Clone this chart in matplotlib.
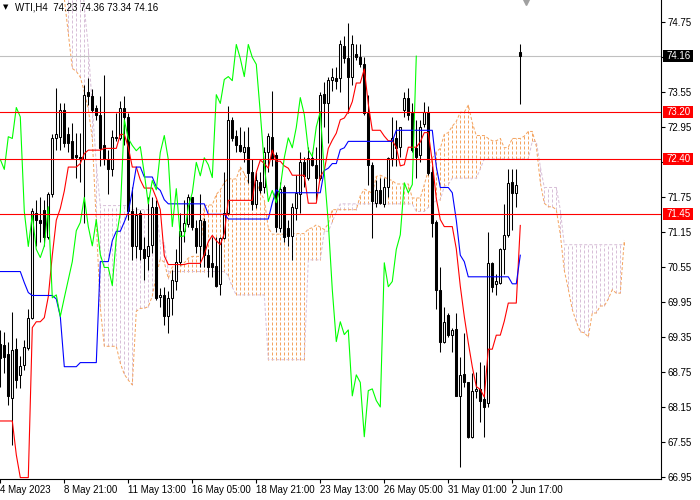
import numpy as np
import matplotlib
matplotlib.use('Agg')
import matplotlib.pyplot as plt
import matplotlib.transforms as mtransforms
from matplotlib.patches import Rectangle

plt.rcParams['font.family'] = ['Liberation Sans', 'DejaVu Sans']

# WTI H4 candles (bar 0 = left edge)
opens = [69.23, 69.22, 69.05, 68.31, 69.15, 68.69, 68.87, 69.16, 69.68, 71.48,
         71.36, 71.53, 71.07, 71.79, 72.76, 72.78, 73.24, 72.82, 72.70, 72.46,
         72.44, 72.39, 73.54, 73.48, 73.28, 73.16, 72.63, 72.39, 72.22, 72.78,
         72.76, 73.28, 73.12, 71.50, 70.90, 71.48, 70.86, 70.73, 70.93, 71.58,
         70.04, 70.06, 69.71, 70.01, 70.31, 70.64, 71.17, 71.29, 71.74, 71.22,
         70.91, 71.34, 70.76, 70.62, 70.57, 70.25, 71.05, 71.48, 73.06, 72.80,
         72.63, 72.51, 72.61, 72.18, 71.63, 72.01, 71.91, 72.51, 72.78, 72.46,
         71.22, 71.92, 71.22, 71.08, 71.56, 71.80, 72.34, 72.08, 72.42, 72.30,
         72.08, 73.52, 73.35, 73.76, 73.79, 73.79, 74.34, 74.12, 73.81, 74.20,
         74.14, 74.02, 73.18, 72.30, 71.65, 71.86, 71.63, 71.91, 72.42, 72.76,
         72.61, 73.24, 73.45, 73.18, 72.58, 72.47, 73.00, 73.21, 72.18, 71.32,
         70.16, 69.27, 69.73, 69.39, 69.49, 68.34, 68.72, 68.57, 67.64, 68.43,
         68.46, 68.29, 68.22, 70.62, 70.26, 70.28, 70.85, 71.10, 72.01, 71.82,
         74.23]
highs = [69.47, 69.44, 69.27, 69.78, 69.34, 69.03, 69.30, 69.82, 71.56, 71.70,
         71.75, 71.70, 71.84, 72.82, 73.62, 73.36, 73.36, 72.95, 73.02, 72.85,
         72.85, 73.67, 73.79, 73.59, 73.33, 73.47, 73.84, 72.56, 72.90, 73.19,
         73.40, 73.47, 73.19, 71.91, 71.58, 71.53, 71.07, 71.75, 71.75, 71.70,
         70.19, 70.21, 70.13, 70.50, 70.85, 71.48, 71.70, 71.79, 71.75, 71.36,
         71.79, 71.39, 70.85, 71.07, 71.07, 71.07, 72.17, 73.31, 73.11, 72.90,
         72.95, 72.87, 72.95, 72.39, 72.17, 72.18, 72.61, 72.85, 73.57, 72.51,
         72.01, 71.96, 71.36, 71.65, 72.13, 72.52, 72.44, 72.61, 72.52, 72.61,
         73.54, 73.72, 73.81, 73.96, 73.98, 74.44, 74.50, 74.72, 74.53, 74.36,
         74.36, 74.15, 73.50, 72.34, 72.04, 72.08, 72.08, 72.44, 73.11, 73.07,
         72.95, 73.55, 73.62, 73.36, 73.07, 73.07, 73.38, 73.30, 72.27, 71.36,
         70.55, 69.87, 69.76, 69.51, 69.76, 69.01, 69.42, 68.58, 68.74, 68.75,
         68.92, 68.87, 71.14, 70.64, 70.42, 70.88, 71.62, 72.22, 72.22, 72.22,
         74.36]
lows = [68.50, 68.74, 68.19, 67.50, 68.48, 68.48, 68.79, 69.13, 69.65, 70.90,
        70.98, 70.90, 71.02, 71.75, 72.56, 72.56, 72.61, 72.52, 72.39, 72.08,
        72.01, 71.31, 73.33, 73.21, 73.07, 72.27, 72.30, 71.79, 72.10, 72.70,
        72.73, 72.64, 71.36, 70.67, 70.71, 70.67, 70.33, 70.50, 70.79, 69.99,
        69.87, 69.56, 69.42, 69.73, 70.16, 70.59, 70.97, 71.24, 71.19, 70.79,
        70.54, 70.55, 70.38, 70.38, 70.21, 70.07, 71.02, 71.44, 72.70, 72.51,
        72.52, 72.34, 71.99, 71.53, 71.56, 71.82, 71.82, 72.17, 72.27, 71.15,
        71.14, 70.98, 70.90, 70.67, 71.36, 71.48, 71.92, 72.04, 72.27, 71.70,
        72.04, 72.95, 72.68, 73.57, 73.59, 73.54, 74.05, 73.19, 73.67, 74.10,
        73.98, 73.16, 71.96, 71.05, 71.58, 71.62, 71.58, 71.75, 72.27, 72.27,
        72.44, 73.11, 73.07, 72.52, 72.08, 72.34, 72.94, 72.13, 71.07, 69.82,
        69.10, 69.25, 69.35, 69.10, 68.33, 67.13, 68.50, 67.62, 67.62, 68.31,
        67.90, 67.64, 68.15, 70.12, 70.07, 70.25, 70.42, 71.07, 71.19, 71.58,
        73.34]
closes = [68.99, 69.01, 68.33, 69.13, 68.62, 68.86, 69.18, 69.68, 71.50, 71.36,
          71.31, 71.07, 71.79, 72.76, 72.82, 73.24, 72.68, 72.68, 72.42, 72.44,
          72.39, 73.50, 73.47, 73.24, 73.16, 72.59, 72.39, 72.22, 72.78, 72.75,
          73.28, 73.12, 71.50, 70.90, 71.44, 70.85, 70.71, 70.91, 71.58, 70.02,
          70.07, 69.70, 70.02, 70.33, 70.64, 71.17, 71.31, 71.74, 71.24, 70.91,
          71.36, 70.76, 70.54, 70.54, 70.23, 71.05, 71.48, 73.07, 72.75, 72.63,
          72.54, 72.61, 72.15, 71.63, 72.03, 71.87, 72.51, 72.80, 72.39, 71.24,
          71.89, 71.07, 71.08, 71.58, 71.82, 72.34, 72.11, 72.42, 72.30, 72.08,
          73.50, 73.35, 73.76, 73.81, 73.74, 74.36, 74.12, 73.81, 74.36, 74.14,
          74.02, 73.19, 72.30, 71.67, 71.86, 71.65, 71.91, 72.42, 72.76, 72.59,
          72.94, 73.45, 73.16, 72.56, 72.44, 72.95, 73.21, 72.16, 71.31, 70.16,
          69.27, 69.61, 69.39, 69.47, 68.34, 68.70, 68.57, 67.64, 68.43, 68.46,
          68.26, 68.15, 70.62, 70.21, 70.30, 70.85, 71.10, 71.99, 71.82, 71.96,
          74.16]

# Ichimoku lines as shown (red Tenkan-sen, blue Kijun-sen)
tenkan = [67.91, 67.91, 67.91, 67.91, 67.33, 66.94, 66.94, 66.94, 69.51, 69.61,
          69.61, 69.68, 70.04, 70.75, 71.35, 71.55, 71.85, 72.26, 72.26, 72.26,
          72.32, 72.49, 72.55, 72.55, 72.55, 72.55, 72.58, 72.58, 72.58, 72.58,
          72.82, 72.82, 72.60, 72.26, 72.26, 72.04, 71.90, 71.90, 71.90, 71.73,
          71.53, 70.74, 70.59, 70.59, 70.59, 70.59, 70.59, 70.61, 70.61, 70.61,
          70.61, 70.76, 70.98, 71.09, 71.00, 70.93, 71.12, 71.69, 71.69, 71.69,
          71.69, 71.69, 71.69, 71.69, 72.17, 72.38, 72.32, 72.24, 72.55, 72.36,
          72.36, 72.28, 72.24, 72.12, 72.12, 72.12, 72.12, 71.64, 71.64, 71.64,
          72.10, 72.20, 72.58, 72.72, 72.84, 73.07, 73.10, 73.21, 73.38, 73.70,
          73.70, 73.94, 73.34, 72.89, 72.89, 72.89, 72.79, 72.71, 72.71, 72.60,
          72.28, 72.30, 72.60, 72.60, 72.60, 72.69, 72.85, 72.85, 72.35, 71.72,
          71.36, 71.24, 71.24, 71.24, 70.86, 70.22, 69.70, 69.25, 68.84, 68.50,
          68.45, 68.32, 69.14, 69.14, 69.38, 69.38, 69.62, 69.93, 69.93, 69.93,
          71.26]
kijun = [70.47, 70.47, 70.47, 70.47, 70.47, 70.47, 70.28, 70.11, 70.06, 70.06,
         70.06, 70.06, 70.06, 70.06, 70.00, 69.70, 68.84, 68.84, 68.84, 68.84,
         68.91, 68.91, 68.91, 68.91, 68.91, 70.64, 70.64, 70.64, 71.00, 71.16,
         71.16, 71.32, 71.49, 71.85, 72.26, 72.26, 72.09, 72.09, 72.09, 71.92,
         71.86, 71.70, 71.63, 71.63, 71.63, 71.63, 71.63, 71.63, 71.63, 71.63,
         71.63, 71.63, 71.45, 71.45, 71.45, 71.45, 71.45, 71.37, 71.37, 71.37,
         71.37, 71.37, 71.37, 71.37, 71.37, 71.37, 71.37, 71.37, 71.65, 71.87,
         71.82, 71.82, 71.82, 71.82, 71.82, 71.82, 71.82, 71.82, 71.82, 71.82,
         71.82, 72.20, 72.24, 72.32, 72.32, 72.56, 72.59, 72.70, 72.70, 72.70,
         72.70, 72.70, 72.70, 72.70, 72.70, 72.70, 72.70, 72.70, 72.70, 72.89,
         72.89, 72.89, 72.89, 72.89, 72.89, 72.89, 72.89, 72.89, 72.89, 72.27,
         71.91, 71.91, 71.91, 71.82, 71.35, 70.75, 70.64, 70.38, 70.38, 70.38,
         70.38, 70.38, 70.38, 70.38, 70.38, 70.38, 70.38, 70.38, 70.26, 70.26,
         70.75]

# Senkou spans as displayed (already 26 bars ahead, 157 slots)
span_a = [75.60, 75.60, 75.60, 75.60, 75.60, 75.60, 75.60, 75.60, 75.60, 75.60,
          75.60, 75.60, 75.60, 75.60, 75.60, 75.60, 75.15, 74.55, 73.95, 73.90,
          73.80, 73.55, 73.25, 72.75, 71.30, 69.85, 69.19, 69.19, 69.19, 69.19,
          68.90, 68.71, 68.61, 68.53, 69.79, 69.84, 69.84, 69.87, 70.05, 70.41,
          70.68, 70.63, 70.35, 70.55, 70.55, 70.55, 70.62, 70.70, 70.73, 70.73,
          70.73, 71.60, 71.61, 71.61, 71.79, 71.87, 71.99, 72.07, 72.05, 72.06,
          72.26, 72.15, 72.00, 72.00, 72.00, 71.83, 71.70, 71.22, 71.11, 71.11,
          71.11, 71.11, 71.11, 71.12, 71.12, 71.12, 71.12, 71.20, 71.22, 71.27,
          71.23, 71.19, 71.29, 71.53, 71.53, 71.53, 71.53, 71.53, 71.53, 71.53,
          71.77, 71.88, 71.85, 71.81, 72.10, 72.12, 72.09, 72.05, 72.03, 71.97,
          71.97, 71.97, 71.97, 71.73, 71.73, 71.73, 71.96, 72.20, 72.41, 72.52,
          72.58, 72.82, 72.85, 72.96, 73.04, 73.20, 73.20, 73.32, 73.02, 72.80,
          72.80, 72.80, 72.75, 72.71, 72.71, 72.75, 72.59, 72.60, 72.75, 72.75,
          72.75, 72.79, 72.87, 72.87, 72.62, 72.00, 71.64, 71.58, 71.58, 71.53,
          71.11, 70.49, 70.17, 69.82, 69.61, 69.44, 69.42, 69.35, 69.76, 69.76,
          69.88, 69.88, 70.00, 70.16, 70.10, 70.10, 71.01]
span_b = [76.00, 76.00, 76.00, 76.00, 76.00, 76.00, 76.00, 76.00, 76.00, 76.00,
          76.00, 76.00, 76.00, 76.00, 76.00, 76.00, 76.00, 76.00, 76.00, 76.00,
          76.00, 75.00, 74.30, 73.30, 72.30, 71.60, 71.60, 71.60, 71.60, 71.60,
          71.60, 71.60, 71.60, 71.53, 71.53, 71.53, 71.53, 71.53, 71.53, 71.53,
          70.96, 70.96, 70.47, 70.47, 70.47, 70.47, 70.47, 70.47, 70.47, 70.47,
          70.47, 70.47, 70.47, 70.47, 70.47, 70.47, 70.47, 70.40, 70.20, 70.07,
          70.07, 70.07, 70.07, 70.07, 70.07, 70.07, 70.07, 68.96, 68.96, 68.96,
          68.96, 68.96, 68.96, 68.96, 68.96, 68.96, 68.96, 70.67, 70.67, 70.67,
          70.67, 71.16, 71.16, 71.32, 71.49, 71.63, 71.63, 71.63, 71.63, 71.63,
          71.63, 71.63, 71.63, 71.63, 71.63, 71.63, 71.63, 71.63, 71.63, 71.63,
          71.63, 71.63, 71.63, 71.63, 71.50, 71.50, 71.50, 71.57, 71.62, 71.69,
          71.70, 71.93, 71.96, 72.07, 72.07, 72.07, 72.07, 72.07, 72.07, 72.07,
          72.23, 72.40, 72.40, 72.40, 72.40, 72.40, 72.40, 72.40, 72.40, 72.40,
          72.40, 72.40, 72.40, 72.70, 72.70, 72.27, 71.91, 71.91, 71.91, 71.91,
          71.53, 70.93, 70.93, 70.93, 70.93, 70.93, 70.93, 70.93, 70.93, 70.93,
          70.93, 70.93, 70.93, 70.93, 70.93, 70.93, 70.93]

chikou_shift = 26
levels = [73.20, 72.40, 71.45]
bid = 74.16
title = 'WTI,H4  74.23 74.36 73.34 74.16'
price_ticks = [74.75, 74.15, 73.55, 72.95, 72.35, 71.75, 71.15,
               70.55, 69.95, 69.35, 68.75, 68.15, 67.55, 66.95]
time_bars = [0, 16, 32, 48, 64, 80, 96, 112, 128]
time_labels = ['4 May 2023', '8 May 21:00', '11 May 13:00', '16 May 05:00',
               '18 May 21:00', '23 May 13:00', '26 May 05:00', '31 May 01:00',
               '2 Jun 17:00']

W, H = 700, 500
fig = plt.figure(figsize=(7, 5), dpi=100)
ax = fig.add_axes([0, 21 / H, 661 / W, 479 / H])
ax.set_xlim(-0.075, 165.18)
ax.set_ylim(66.916, 75.122)

o = np.array(opens)
h = np.array(highs)
l = np.array(lows)
c = np.array(closes)
x = np.arange(len(c))

dash = (0, (3, 2))
sandy = '#F4A460'
thistle = '#D8BFD8'

# kumo: one dotted stroke per bar between the spans
sa = np.array(span_a)
sb = np.array(span_b)
d = np.arange(len(sa))
up_k = sa >= sb
ax.vlines(d[up_k], sb[up_k], sa[up_k], color=sandy, lw=0.72, linestyles=dash, zorder=1)
ax.vlines(d[~up_k], sa[~up_k], sb[~up_k], color=thistle, lw=0.72, linestyles=dash, zorder=1)
ax.plot(d, sb, color=thistle, lw=0.72, ls=dash, zorder=1.2)
ax.plot(d, sa, color=sandy, lw=0.72, ls=dash, zorder=1.3)

ax.axhline(bid, color='#C0C0C0', lw=0.8, zorder=1.5)

# candles
bull = c >= o
ax.vlines(x, l, h, color='black', lw=0.75, zorder=3)
ax.bar(x[bull], (c - o)[bull], bottom=o[bull], width=0.5,
       facecolor='white', edgecolor='black', lw=0.75, zorder=4)
ax.bar(x[~bull], (o - c)[~bull], bottom=c[~bull], width=0.5,
       facecolor='black', edgecolor='black', lw=0.75, zorder=4)

ax.plot(x, tenkan, color='#FF0000', lw=0.8, zorder=5)
ax.plot(x, kijun, color='#0000FF', lw=0.8, zorder=5)
ax.plot(x[:len(c) - chikou_shift], c[chikou_shift:], color='#00FF00', lw=0.8, zorder=5)

for lv in levels:
    ax.axhline(lv, color='#FF0000', lw=0.8, zorder=6)

# chart shift marker
ax.plot([131.4], [75.10], marker='v', color='#A0A0A0', ms=6, zorder=7, clip_on=False)

# axes look
for side in ['top', 'left']:
    ax.spines[side].set_visible(False)
for side in ['right', 'bottom']:
    ax.spines[side].set_linewidth(0.8)

# scale labels that sit under a price box are hidden in the terminal too
boxed = [bid] + levels
tick_text = []
for p in price_ticks:
    if min(abs(p - b) for b in boxed) < 0.1:
        tick_text.append('')
    else:
        tick_text.append('%.2f' % p)
ax.yaxis.tick_right()
ax.set_yticks(price_ticks)
ax.set_yticklabels(tick_text)
ax.tick_params(axis='y', length=3, width=0.8, pad=2, labelsize=7)
ax.set_xticks(time_bars)
ax.set_xticklabels(time_labels)
for lbl in ax.get_xticklabels():
    lbl.set_horizontalalignment('left')
ax.tick_params(axis='x', length=3, width=0.8, pad=1.5, labelsize=7)

# price labels on the scale
tr = mtransforms.blended_transform_factory(fig.transFigure, ax.transData)
boxh = 12 / 58.37
for val, col in [(bid, 'black')] + [(lv, '#FF0000') for lv in levels]:
    ax.add_patch(Rectangle((663 / W, val - boxh / 2), 30 / W, boxh, transform=tr,
                           facecolor=col, edgecolor='none', zorder=10, clip_on=False))
    ax.text(666 / W, val, '%.2f' % val, transform=tr, color='white', fontsize=7,
            va='center', ha='left', zorder=11, clip_on=False)

fig.text(3 / W, 1 - 7 / H, '\u25bc', fontsize=5, va='center', ha='left',
         family=['DejaVu Sans'])
fig.text(15 / W, 1 - 7 / H, title, fontsize=7, va='center', ha='left')

fig.savefig('out.png', dpi=100, facecolor='white')
